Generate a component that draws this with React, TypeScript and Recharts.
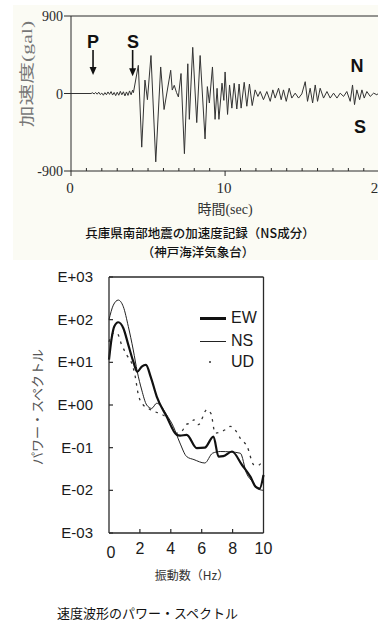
import React from "react";
import { LineChart, Line, XAxis, YAxis, ReferenceLine } from "recharts";

// --- acceleration record (NS), time in s, acceleration in gal
const WAVE_T = [
  0, 1.3, 1.4, 1.5, 1.6, 1.7, 1.8, 1.9, 2.0, 2.1, 2.2, 2.3, 2.4, 2.5, 2.6, 2.7, 2.8, 2.9, 3.0, 3.1, 3.2, 3.3, 3.4, 3.5,
  3.6, 3.7, 3.8, 3.9, 4.0, 4.05,
  4.37, 4.59, 4.8, 4.96, 5.19, 5.5, 5.82, 6.04, 6.47, 6.57, 6.7, 6.85, 6.97, 7.14, 7.36, 7.58, 7.68, 7.9, 8.16, 8.38,
  8.7, 8.85, 8.98, 9.18, 9.35, 9.48, 9.6, 9.8, 9.92, 10.0, 10.16,
  10.29, 10.44, 10.59, 10.76, 10.91, 11.04, 11.24, 11.41, 11.58, 11.76, 11.95, 12.13, 12.28, 12.49, 12.71, 12.93, 13.1,
  13.25, 13.47, 13.64, 13.79, 13.97, 14.16, 14.33, 14.55, 14.77, 14.98, 15.2, 15.35, 15.52, 15.68, 15.85, 16.0, 16.17,
  16.39, 16.61, 16.82, 17.04, 17.26, 17.47, 17.69, 17.9, 18.12, 18.27, 18.4, 18.55, 18.73, 18.88, 19.03, 19.2, 19.42,
  19.64, 19.85, 20.05, 20.25,
];
const WAVE_A = [
  0, 0, 8, -5, 12, -8, 15, -12, 5, -20, 10, -15, 18, -10, 22, -18, 12, -25, 15, -20, 25, -15, 20, -28, 18, -22, 30, -15,
  40, 10,
  327, -623, 156, -72, 441, -794, 308, -186, 270, 40, 95, 10, -40, 232, -699, 345, -300, 536, -338, 441, -528, 80, -110,
  308, -300, 60, -300, 120, -80, 250, -243,
  99, -170, 118, -180, 110, -170, 130, -148, 110, -140, 42, -34, 23, -72, 23, -91, 42, -53, 61, -72, 42, -91, 61, -53, 4,
  -53, -5, 137, -91, 61, -110, 99, -91, 61, -53, 23, -53, 4, -53, 4, -34, 23, -91, 99, -129, 42, -72, 42, -53, 23, -34,
  4, -15, 20, -10,
];
const WAVE_X_TICKS = [0, 1, 2, 3, 4, 5, 6, 7, 8, 9, 10, 11, 12, 13, 14, 15, 16, 17, 18, 19, 20, 21];
const WAVE_Y_TICKS = [-900, 0, 900];
const P_TIME = 1.43;
const S_TIME = 4.0;

// --- power spectra of velocity waveform, frequency in Hz
const EW_F = [0, 0.17, 0.34, 0.6, 0.93, 1.25, 1.57, 1.83, 2.12, 2.39, 2.7, 3.09, 3.73, 4.38, 4.6, 5.03, 5.68, 6.2, 6.76, 7.09, 7.4, 7.96, 8.6, 9.15, 9.5, 9.75, 10];
const EW_P = [11.5, 36.3, 69.2, 87.1, 63.1, 25.7, 10.5, 6.03, 7.94, 8.71, 4.57, 1.58, 0.537, 0.2, 0.191, 0.2, 0.0977, 0.1, 0.182, 0.0617, 0.0631, 0.0813, 0.0398, 0.0209, 0.012, 0.011, 0.0229];
const NS_F = [0, 0.28, 0.6, 0.93, 1.25, 1.57, 1.83, 2.12, 2.44, 2.76, 3.09, 3.3, 3.73, 4.16, 4.59, 5.03, 5.5, 6.2, 6.7, 7.2, 7.9, 8.5, 8.9, 9.3, 9.7, 10];
const NS_P = [100, 219, 288, 200, 69.2, 19.5, 6.03, 2.24, 1.0, 0.832, 1.1, 1.0, 0.589, 0.316, 0.129, 0.0617, 0.0525, 0.0437, 0.0741, 0.0813, 0.0794, 0.0741, 0.0251, 0.0158, 0.0105, 0.01];
const UD_F = [0, 0.28, 0.52, 0.82, 1.15, 1.47, 1.68, 1.9, 2.22, 2.54, 2.98, 3.3, 3.73, 4.38, 4.7, 5.03, 5.24, 5.5, 5.79, 6.33, 6.6, 6.87, 7.52, 7.85, 8.2, 8.5, 8.94, 9.37, 9.6, 10];
const UD_P = [30.2, 47.9, 47.9, 25.7, 14.8, 9.55, 5.01, 1.74, 1.0, 0.832, 0.692, 0.631, 0.501, 0.219, 0.24, 0.355, 0.372, 0.447, 0.347, 0.776, 0.631, 0.219, 0.263, 0.316, 0.251, 0.166, 0.107, 0.0398, 0.038, 0.0513];
const SPEC_X_TICKS = [0, 2, 4, 6, 8, 10];
const SPEC_Y_TICKS = [0.001, 0.01, 0.1, 1, 10, 100, 1000];

const waveData = WAVE_T.map((t, i) => ({ t, a: WAVE_A[i] }));
const ewData = EW_F.map((f, i) => ({ f, p: EW_P[i] }));
const nsData = NS_F.map((f, i) => ({ f, p: NS_P[i] }));
const udData = UD_F.map((f, i) => ({ f, p: UD_P[i] }));

const SERIF = '"Liberation Serif", "Noto Sans CJK JP", serif';
const SANS = '"Liberation Sans", "Noto Sans CJK JP", sans-serif';
const JP = '"Noto Sans CJK JP", "Liberation Sans", sans-serif';
const INK = "#2a2a2a";

const expLabel = (v: number) => {
  const e = Math.round(Math.log10(v));
  return "E" + (e < 0 ? "-" : "+") + String(Math.abs(e)).padStart(2, "0");
};

const WaveXTick = (p: any) => {
  const { x, y, payload } = p;
  const major = payload.value % 10 === 0;
  return (
    <g>
      <line x1={x} x2={x} y1={y} y2={major ? y + 5 : y - 3} stroke={INK} strokeWidth={1} />
      {major && (
        <text x={x - 1} y={y + 22} textAnchor="middle" fontFamily={SERIF} fontSize={15} fill={INK}>
          {payload.value}
        </text>
      )}
    </g>
  );
};

const WaveYTick = (p: any) => {
  const { x, y, payload } = p;
  return (
    <g>
      <line x1={x - 7} x2={x} y1={y} y2={y} stroke={INK} strokeWidth={1} />
      <text x={x - 8} y={y + 5} textAnchor="end" fontFamily={SERIF} fontSize={14} fill={INK}>
        {payload.value}
      </text>
    </g>
  );
};

const SpecXTick = (p: any) => {
  const { x, y, payload } = p;
  const v = payload.value;
  return (
    <g>
      {v > 0 && v < 10 && <line x1={x} x2={x} y1={y} y2={y - 4} stroke={INK} strokeWidth={1.2} />}
      <text x={x + (v === 0 ? 2 : 0)} y={y + (v === 0 ? 25 : 21)} textAnchor="middle" fontFamily={SANS} fontSize={16} fill="#1a1a1a">
        {v}
      </text>
    </g>
  );
};

const SpecYTick = (p: any) => {
  const { x, y, payload } = p;
  return (
    <g>
      <line x1={x} x2={x + 4} y1={y} y2={y} stroke={INK} strokeWidth={1.2} />
      <text x={x - 16} y={y + 5} textAnchor="end" fontFamily={SANS} fontSize={15} fill="#1a1a1a">
        {expLabel(payload.value)}
      </text>
    </g>
  );
};

const Arrow = (p: any) => {
  const { x1, y1, y2 } = p;
  const top = Math.min(y1, y2);
  const bot = Math.max(y1, y2);
  return (
    <g>
      <line x1={x1} x2={x1} y1={top} y2={bot - 5} stroke="#111" strokeWidth={1.6} />
      <path d={`M${x1 - 3.5},${bot - 8} L${x1 + 3.5},${bot - 8} L${x1},${bot} Z`} fill="#111" />
    </g>
  );
};

const abs = (left: number, top: number, extra: React.CSSProperties = {}): React.CSSProperties => ({
  position: "absolute",
  left,
  top,
  whiteSpace: "nowrap",
  ...extra,
});

const bigLetter: React.CSSProperties = {
  width: 20,
  textAlign: "center",
  fontFamily: SANS,
  fontWeight: 700,
  fontSize: 18,
  lineHeight: "20px",
  color: "#111",
};

export default function App() {
  return (
    <div style={{ position: "absolute", left: 0, top: 0, width: 378, height: 621, overflow: "hidden", background: "#fff" }}>
      <div style={abs(13, 5, { width: 365, height: 255, background: "#fbfbf4" })} />

      {/* acceleration record */}
      <div style={abs(0, 0)}>
        <LineChart width={420} height={200} data={waveData} margin={{ top: 16, right: 10, bottom: 0, left: 11 }}>
          <XAxis
            type="number"
            dataKey="t"
            domain={[0, 22]}
            ticks={WAVE_X_TICKS}
            interval={0}
            height={29}
            tickSize={0}
            tickMargin={0}
            tick={WaveXTick}
            axisLine={{ stroke: INK }}
            tickLine={false}
          />
          <YAxis
            type="number"
            domain={[-900, 900]}
            ticks={WAVE_Y_TICKS}
            width={60}
            tickSize={0}
            tickMargin={0}
            tick={WaveYTick}
            axisLine={{ stroke: INK }}
            tickLine={false}
            allowDataOverflow
          />
          <ReferenceLine y={900} stroke={INK} strokeWidth={1} />
          <ReferenceLine segment={[{ x: P_TIME, y: 505 }, { x: P_TIME, y: 215 }]} shape={Arrow} />
          <ReferenceLine segment={[{ x: S_TIME, y: 505 }, { x: S_TIME, y: 200 }]} shape={Arrow} />
          <Line type="linear" dataKey="a" stroke="#333" strokeWidth={1} dot={false} isAnimationActive={false} />
        </LineChart>
      </div>
      <div style={abs(25, 74, { transform: "translate(-50%, -50%) rotate(-90deg) scaleX(1.45)", fontFamily: SERIF, fontSize: 15, color: "#777" })}>
        加速度(gal)
      </div>
      <div style={abs(83, 32, bigLetter)}>P</div>
      <div style={abs(123, 32, bigLetter)}>S</div>
      <div style={abs(347, 56, bigLetter)}>N</div>
      <div style={abs(350, 117, bigLetter)}>S</div>
      <div style={abs(175, 202, { width: 100, textAlign: "center", fontFamily: SERIF, fontSize: 14, lineHeight: "16px", color: "#333" })}>
        時間(sec)
      </div>
      <div style={abs(0, 224, { width: 400, textAlign: "center", fontFamily: JP, fontSize: 12.5, lineHeight: "17px", color: "#111", fontWeight: 500 })}>
        兵庫県南部地震の加速度記録（NS成分）
      </div>
      <div style={abs(0, 242.5, { width: 396, textAlign: "center", fontFamily: JP, fontSize: 12.5, lineHeight: "17px", color: "#111", fontWeight: 500 })}>
        （神戸海洋気象台）
      </div>

      {/* power spectrum */}
      <div style={abs(0, 260)}>
        <LineChart width={300} height={300} margin={{ top: 17, right: 36.5, bottom: 0, left: 49 }}>
          <XAxis
            type="number"
            dataKey="f"
            domain={[0, 10]}
            ticks={SPEC_X_TICKS}
            interval={0}
            height={27}
            tickSize={0}
            tickMargin={0}
            tick={SpecXTick}
            axisLine={{ stroke: INK, strokeWidth: 1.3 }}
            tickLine={false}
          />
          <YAxis
            type="number"
            scale="log"
            domain={[0.001, 1000]}
            ticks={SPEC_Y_TICKS}
            interval={0}
            width={60}
            tickSize={0}
            tickMargin={0}
            tick={SpecYTick}
            axisLine={{ stroke: INK, strokeWidth: 1.3 }}
            tickLine={false}
            allowDataOverflow
          />
          <ReferenceLine y={1000} stroke={INK} strokeWidth={1.3} />
          <ReferenceLine x={10} stroke={INK} strokeWidth={1.3} />
          <Line data={udData} type="monotone" dataKey="p" stroke="#333" strokeWidth={1.3} strokeDasharray="2.5 5" dot={false} isAnimationActive={false} />
          <Line data={nsData} type="monotone" dataKey="p" stroke="#222" strokeWidth={1} dot={false} isAnimationActive={false} />
          <Line data={ewData} type="monotone" dataKey="p" stroke="#111" strokeWidth={2.2} dot={false} isAnimationActive={false} />
        </LineChart>
      </div>
      <div style={abs(200, 317, { width: 26, height: 2.5, background: "#111" })} />
      <div style={abs(200, 341, { width: 26, height: 1, background: "#222" })} />
      <div style={abs(209, 361, { width: 2, height: 2, borderRadius: 1, background: "#333" })} />
      <div style={abs(231, 309, { fontFamily: SANS, fontSize: 16, lineHeight: "18px", color: "#1a1a1a" })}>EW</div>
      <div style={abs(231, 332, { fontFamily: SANS, fontSize: 16, lineHeight: "18px", color: "#1a1a1a" })}>NS</div>
      <div style={abs(231, 353, { fontFamily: SANS, fontSize: 16, lineHeight: "18px", color: "#1a1a1a" })}>UD</div>
      <div style={abs(36, 407, { transform: "translate(-50%, -50%) rotate(-90deg)", fontFamily: JP, fontSize: 13, color: "#555" })}>
        パワー・スペクトル
      </div>
      <div style={abs(192, 567, { transform: "translateX(-50%)", fontFamily: JP, fontSize: 12, lineHeight: "16px", color: "#333" })}>
        振動数（Hz）
      </div>
      <div style={abs(57, 605, { fontFamily: JP, fontSize: 13, lineHeight: "16px", color: "#111" })}>
        速度波形のパワー・スペクトル
      </div>
    </div>
  );
}
